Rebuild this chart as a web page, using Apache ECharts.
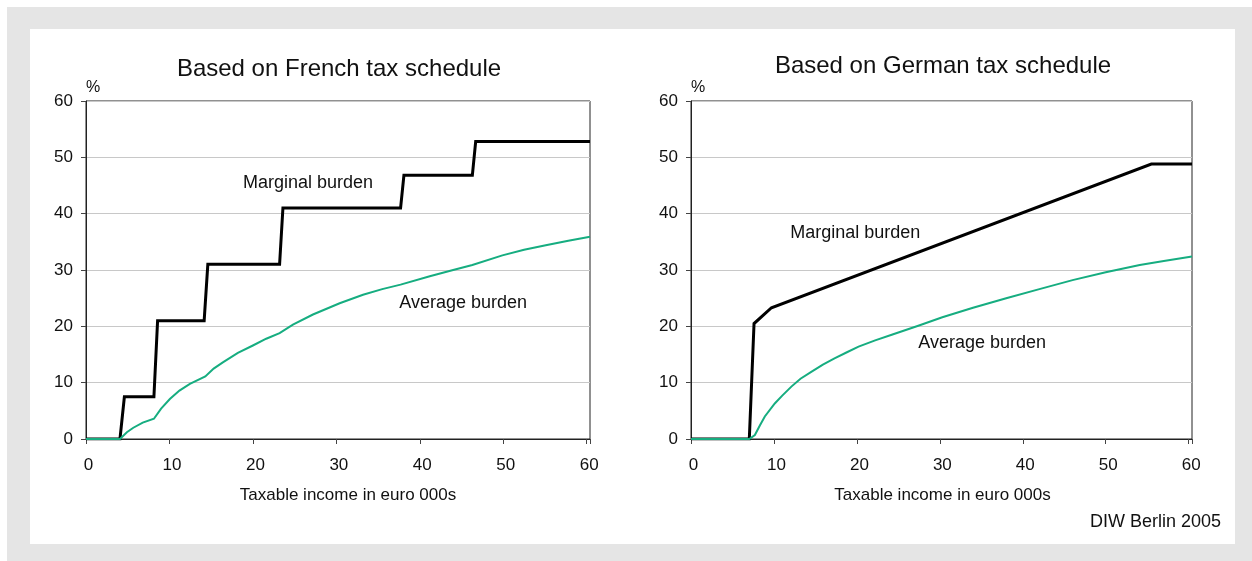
<!DOCTYPE html>
<html>
<head>
<meta charset="utf-8">
<script src="https://cdn.jsdelivr.net/npm/echarts@6/dist/echarts.min.js"></script>
<style>
html,body{margin:0;padding:0;background:#fff;}
#c{width:1252px;height:561px;}
</style>
</head>
<body>
<div id="c"></div>
<script>
// ---- data ----
const xTicks = [0, 10, 20, 30, 40, 50, 60];
const yTicks = [0, 10, 20, 30, 40, 50, 60];
const titles = ['Based on French tax schedule', 'Based on German tax schedule'];
const xAxisName = 'Taxable income in euro 000s';
const source = 'DIW Berlin 2005';

const frMarginal = [[0,0],[4.07,0],[4.6,7.5],[8.14,7.5],[8.58,21],[14.16,21],[14.6,31],[23.2,31],[23.6,41],[37.7,41],[38.1,46.8],[46.3,46.8],[46.7,52.8],[60.4,52.8]];
const frAverage = [[0,0],[4.07,0],[4.9,1.2],[5.67,2.0],[6.8,2.9],[8.14,3.6],[9.0,5.4],[10.05,7.1],[11.2,8.6],[12.45,9.8],[14.3,11.1],[15.3,12.5],[16.4,13.6],[18.2,15.3],[20,16.6],[21.6,17.8],[23.2,18.8],[24.8,20.3],[27.2,22.1],[30.4,24.1],[33.2,25.6],[35.5,26.6],[37.7,27.4],[41.2,28.9],[44,30.0],[46.3,30.9],[49.9,32.6],[52.5,33.6],[55.1,34.4],[57.8,35.2],[60.4,35.9]];

const deMarginal = [[0,0],[7.03,0],[7.6,20.5],[9.7,23.3],[55.5,48.8],[60.4,48.8]];
const deAverage = [[0,0],[7.03,0],[7.7,0.7],[8.3,2.4],[8.9,4.0],[10.1,6.3],[11.0,7.7],[12.1,9.3],[13.2,10.7],[14.5,11.9],[15.9,13.2],[17.3,14.3],[18.8,15.4],[20.2,16.4],[22.2,17.5],[24.2,18.5],[27.4,20.1],[30.3,21.6],[34,23.3],[38,25.0],[42,26.6],[46,28.2],[50,29.6],[54.1,30.9],[57,31.6],[60.4,32.4]];

const labelMarg = ['Marginal burden', 'Marginal burden'];
const labelAvg = ['Average burden', 'Average burden'];
const labelPosMarg = [[26.6, 45.4], [19.8, 36.6]];
const labelPosAvg = [[45.2, 24.1], [35.1, 17.0]];

const BLACK = '#000000';
const GREEN = '#16ad80';
const FONT = 'Liberation Sans, Arial, Helvetica, sans-serif';

const chart = echarts.init(document.getElementById('c'));

const grids = [
  {left: 86, top: 101, width: 504, height: 338},
  {left: 691, top: 101, width: 501, height: 338}
];
const namePad = [[0,0,0,20],[0,0,0,2]];

function xAxis(i){
  return {
    type: 'value', gridIndex: i, min: 0, max: 60.4, interval: 10,
    name: xAxisName, nameLocation: 'middle', nameGap: 48,
    nameTextStyle: {fontSize: 17, color: '#111', fontFamily: FONT, padding: namePad[i]},
    axisLine: {show: true, lineStyle: {color: '#222', width: 1}},
    axisTick: {show: true, length: 5, inside: false, lineStyle: {color: '#444'}},
    axisLabel: {show: true, fontSize: 17, color: '#111', fontFamily: FONT, margin: 18, padding: [0,0,0,5],
      formatter: v => (xTicks.indexOf(v) >= 0 ? String(v) : '')},
    splitLine: {show: false}
  };
}
function yAxis(i){
  return {
    type: 'value', gridIndex: i, min: 0, max: 60, interval: 10,
    name: '%', nameLocation: 'end', nameGap: 5,
    nameTextStyle: {fontSize: 16, color: '#111', fontFamily: FONT, align: 'left'},
    axisLine: {show: true, lineStyle: {color: '#222', width: 1}},
    axisTick: {show: true, length: 5, inside: false, lineStyle: {color: '#444'}},
    axisLabel: {show: true, fontSize: 17, color: '#111', fontFamily: FONT, margin: 13,
      formatter: v => (yTicks.indexOf(v) >= 0 ? String(v) : '')},
    splitLine: {show: true, lineStyle: {color: '#c8c8c8', width: 1}}
  };
}

function textMark(pos, txt){
  return {
    symbol: 'circle', symbolSize: 0, silent: true,
    label: {show: true, position: 'inside', formatter: txt, fontSize: 18, color: '#111', fontFamily: FONT},
    data: [{coord: pos}]
  };
}

function lineSeries(i, data, color, width, labelPos, labelTxt){
  return {
    type: 'line', xAxisIndex: i, yAxisIndex: i, data: data,
    showSymbol: false, symbol: 'none', animation: false,
    lineStyle: {color: color, width: width, join: 'miter'},
    z: color === BLACK ? 3 : 4,
    markPoint: textMark(labelPos, labelTxt)
  };
}

const option = {
  backgroundColor: '#ffffff',
  animation: false,
  graphic: [
    {type: 'rect', z: -20, silent: true, shape: {x: 7, y: 7, width: 1245, height: 554}, style: {fill: '#e5e5e5'}},
    {type: 'rect', z: -19, silent: true, shape: {x: 30, y: 29, width: 1205, height: 515}, style: {fill: '#ffffff'}},
    {type: 'text', z: 10, x: 339, y: 69, style: {text: titles[0], fontSize: 24, fill: '#111', fontFamily: FONT, textAlign: 'center', textVerticalAlign: 'middle'}},
    {type: 'text', z: 10, x: 943, y: 66, style: {text: titles[1], fontSize: 24, fill: '#111', fontFamily: FONT, textAlign: 'center', textVerticalAlign: 'middle'}},
    {type: 'text', z: 10, x: 1221, y: 522, style: {text: source, fontSize: 18, fill: '#111', fontFamily: FONT, textAlign: 'right', textVerticalAlign: 'middle'}}
  ],
  grid: grids.map(g => Object.assign({show: true, borderColor: '#222', borderWidth: 1, backgroundColor: 'transparent'}, g)),
  xAxis: [xAxis(0), xAxis(1)],
  yAxis: [yAxis(0), yAxis(1)],
  series: [
    lineSeries(0, frMarginal, BLACK, 3, labelPosMarg[0], labelMarg[0]),
    lineSeries(0, frAverage, GREEN, 2, labelPosAvg[0], labelAvg[0]),
    lineSeries(1, deMarginal, BLACK, 3, labelPosMarg[1], labelMarg[1]),
    lineSeries(1, deAverage, GREEN, 2, labelPosAvg[1], labelAvg[1])
  ]
};
chart.setOption(option);
</script>
</body>
</html>
